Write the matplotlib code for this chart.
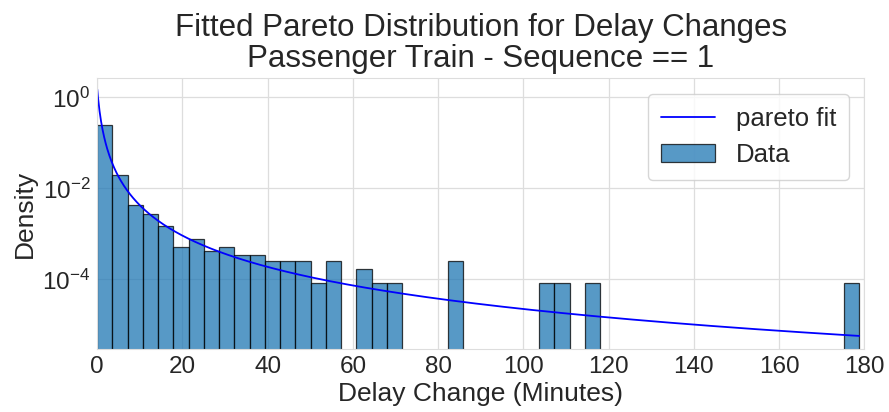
import numpy as np
import matplotlib
matplotlib.use("Agg")
import matplotlib.pyplot as plt
import seaborn as sns

# Histogram of delay changes: 50 equal-width bins between 0 and the max delay change
bin_min = 0.0
bin_max = 178.8
n_bins = 50
bin_counts = [2924, 233, 52, 32, 18, 6, 9, 5, 6, 4,
              4, 3, 3, 3, 1, 3, 0, 2, 1, 1,
              0, 0, 0, 3, 0, 0, 0, 0, 0, 1,
              1, 0, 1, 0, 0, 0, 0, 0, 0, 0,
              0, 0, 0, 0, 0, 0, 0, 0, 0, 1]

# Fitted Pareto parameters (shape b, loc, scale)
pareto_b = 1.36
pareto_loc = -0.908
pareto_scale = 0.908

sns.set_style("whitegrid")
plt.rcParams["font.family"] = ["Liberation Sans", "DejaVu Sans"]

fig = plt.figure(figsize=(8.89, 4.12), dpi=100)
ax = fig.add_axes([0.1094, 0.152, 0.8628, 0.658])

edges = np.linspace(bin_min, bin_max, n_bins + 1)
centers = 0.5 * (edges[:-1] + edges[1:])

xs = np.linspace(bin_min, bin_max, 1000)
z = (xs - pareto_loc) / pareto_scale
pdf = pareto_b / pareto_scale / z ** (pareto_b + 1)
ax.plot(xs, pdf, color="blue", lw=1.3, label="pareto fit")

ax.hist(centers, bins=edges, weights=bin_counts, density=True,
        color="#1f77b4", alpha=0.75, edgecolor="black", linewidth=0.9,
        label="Data")

ax.set_yscale("log")
ax.set_xlim(0, 180)
ax.set_ylim(10 ** -5.54, 10 ** 0.42)
ax.set_xticks(np.arange(0, 181, 20))
ax.set_yticks([1e0, 1e-2, 1e-4])
ax.yaxis.set_minor_locator(matplotlib.ticker.NullLocator())
ax.tick_params(axis="both", labelsize=17.5, length=0, pad=5)

ax.set_xlabel("Delay Change (Minutes)", fontsize=19, labelpad=3)
ax.set_ylabel("Density", fontsize=19, labelpad=4)
ax.set_title("Fitted Pareto Distribution for Delay Changes\nPassenger Train - Sequence == 1",
             fontsize=22.5, pad=8, linespacing=1.05)

for s in ax.spines.values():
    s.set_color("#dddddd")
ax.grid(color="#dddddd", lw=0.9)

ax.legend(loc="upper right", fontsize=18.5, frameon=True, borderpad=0.5,
          handlelength=2.1, handletextpad=0.8, borderaxespad=0.6)

fig.savefig("out.png", dpi=100)
